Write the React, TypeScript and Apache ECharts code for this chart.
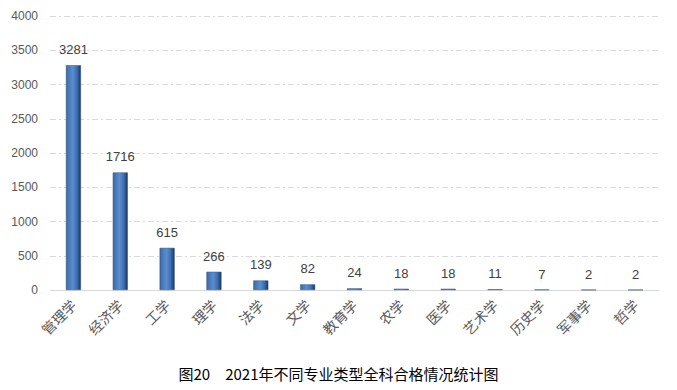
import React, { useEffect, useRef } from "react";
import * as echarts from "echarts";

const categories = ["管理学", "经济学", "工学", "理学", "法学", "文学", "教育学", "农学", "医学", "艺术学", "历史学", "军事学", "哲学"];
const values = [3281, 1716, 615, 266, 139, 82, 24, 18, 18, 11, 7, 2, 2];
const yTicks = { min: 0, max: 4000, interval: 500 };
const caption = "图20　2021年不同专业类型全科合格情况统计图";

export default function App() {
  const ref = useRef<HTMLDivElement>(null);
  useEffect(() => {
    const chart = echarts.init(ref.current!, null, { renderer: "svg" });
    chart.setOption({
      animation: false,
      backgroundColor: "#ffffff",
      grid: { left: 50, right: 18, top: 16, bottom: 100 },
      xAxis: {
        type: "category",
        data: categories,
        axisLine: { lineStyle: { color: "#d9d9d9", width: 1 } },
        axisTick: { show: false },
        axisLabel: {
          rotate: 45,
          color: "#595959",
          fontSize: 14,
          fontFamily: "Noto Sans CJK SC",
          margin: 12,
          interval: 0,
        },
      },
      yAxis: {
        type: "value",
        min: yTicks.min,
        max: yTicks.max,
        interval: yTicks.interval,
        axisLine: { show: false },
        axisTick: { show: false },
        axisLabel: {
          color: "#595959",
          fontSize: 12,
          fontFamily: "Liberation Sans",
          margin: 12,
          formatter: (v: number) => String(v),
        },
        splitLine: { lineStyle: { color: "#d9d9d9", type: [6, 3, 2, 3], width: 1 } },
      },
      series: [
        {
          type: "bar",
          data: values,
          barWidth: 15,
          itemStyle: {
            color: new echarts.graphic.LinearGradient(0, 0, 1, 0, [
              { offset: 0, color: "#3c6aa6" },
              { offset: 0.45, color: "#5a8ed0" },
              { offset: 0.75, color: "#3d6db0" },
              { offset: 1, color: "#1b3558" },
            ]),
            borderColor: "#2c5082",
            borderWidth: 0.5,
          },
          label: {
            show: true,
            position: "top",
            distance: 9,
            color: "#404040",
            fontSize: 13,
            fontFamily: "Liberation Sans",
          },
        },
      ],
      graphic: [
        {
          type: "text",
          left: "center",
          top: 366,
          style: {
            text: caption,
            fill: "#000000",
            fontSize: 15,
            fontFamily: "Noto Sans CJK SC",
          },
        },
      ],
    });
    return () => chart.dispose();
  }, []);
  return <div ref={ref} style={{ width: 677, height: 390, position: "absolute", left: 0, top: 0 }} />;
}
